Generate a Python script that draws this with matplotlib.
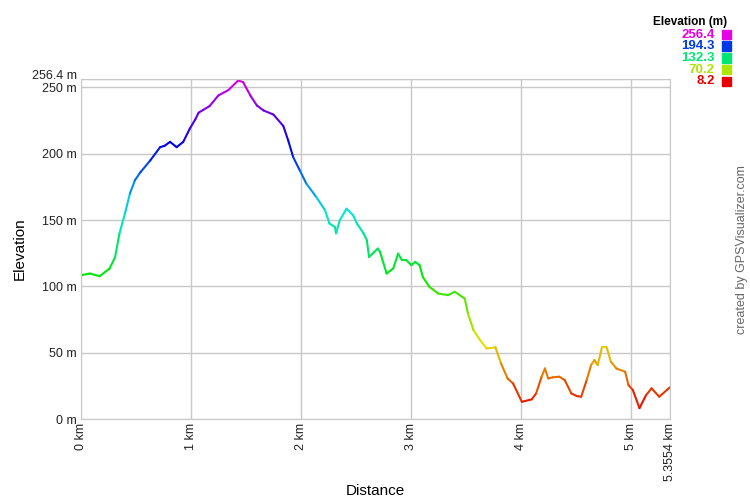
import numpy as np
import matplotlib
matplotlib.use("Agg")
import matplotlib.pyplot as plt
from matplotlib.collections import LineCollection
from matplotlib.colors import hsv_to_rgb

plt.rcParams['font.family'] = ['Liberation Sans', 'DejaVu Sans']

# Elevation profile (distance km, elevation m)
dist_km = [0.00, 0.08, 0.17, 0.26, 0.31, 0.35, 0.40, 0.445, 0.49, 0.54, 0.63, 0.72, 0.76, 0.81,
           0.87, 0.93, 0.99, 1.04, 1.07, 1.11, 1.17, 1.25, 1.34, 1.43, 1.475, 1.54, 1.60, 1.66,
           1.75, 1.84, 1.885, 1.93, 1.99, 2.05, 2.14, 2.22, 2.26, 2.31, 2.32, 2.355, 2.415,
           2.475, 2.51, 2.57, 2.60, 2.62, 2.70, 2.72, 2.78, 2.84, 2.885, 2.92, 2.96, 3.005,
           3.04, 3.08, 3.11, 3.17, 3.25, 3.34, 3.40, 3.49, 3.52, 3.57, 3.63, 3.69, 3.77, 3.82,
           3.88, 3.93, 4.01, 4.10, 4.14, 4.19, 4.22, 4.25, 4.29, 4.35, 4.40, 4.46, 4.51, 4.55,
           4.60, 4.64, 4.67, 4.70, 4.74, 4.78, 4.82, 4.87, 4.95, 4.98, 5.02, 5.08, 5.14, 5.19,
           5.26, 5.3554]
elev_m = [108.4, 109.7, 107.7, 113.5, 122.0, 140.0, 155.0, 170.0, 180.0, 186.0, 195.0, 205.0,
          206.0, 209.0, 205.0, 209.0, 219.0, 226.0, 231.0, 233.0, 236.0, 244.0, 248.0, 255.3,
          254.0, 244.0, 236.4, 232.7, 229.6, 221.0, 210.0, 197.5, 187.5, 177.5, 167.4, 157.4,
          147.4, 144.8, 140.0, 150.0, 158.6, 153.6, 147.4, 140.0, 134.8, 122.2, 128.5, 126.0,
          109.7, 113.5, 124.7, 119.7, 119.7, 116.0, 118.5, 116.0, 107.0, 99.6, 94.6, 93.4,
          95.9, 90.9, 79.5, 67.0, 59.5, 53.2, 54.0, 42.0, 30.6, 26.8, 13.0, 14.8, 19.3, 31.9,
          38.1, 30.6, 31.4, 31.9, 29.4, 19.3, 17.3, 16.8, 29.4, 40.7, 44.4, 40.7, 54.4, 54.4,
          43.2, 38.1, 35.6, 25.6, 21.8, 8.2, 18.0, 23.1, 16.8, 23.8]

legend_vals = [256.4, 194.3, 132.3, 70.2, 8.2]
y_ticks = [0, 50, 100, 150, 200, 250]
x_ticks = [0, 1, 2, 3, 4, 5]

e_min, e_max = 8.2, 256.4
total_km = 5.3554


def elev_color(e):
    # hue runs from red (low) to magenta (high)
    h = (e - e_min) / (e_max - e_min) * 300.0 / 360.0
    return hsv_to_rgb([h, 1.0, 0.9])


fig = plt.figure(figsize=(7.5, 5), dpi=100)
ax = fig.add_axes([0.108, 0.162, 0.785, 0.680])

x = np.array(dist_km)
y = np.array(elev_m)
pts = np.column_stack([x, y]).reshape(-1, 1, 2)
segs = np.concatenate([pts[:-1], pts[1:]], axis=1)
cols = [elev_color((a + b) / 2) for a, b in zip(y[:-1], y[1:])]
ax.add_collection(LineCollection(segs, colors=cols, linewidths=1.5, capstyle='round'))

ax.set_xlim(0, total_km)
ax.set_ylim(0, e_max)

grid_c = '#c8c8c8'
ax.set_yticks(y_ticks + [e_max])
ax.set_yticklabels(["%d m" % v for v in y_ticks] + ["256.4 m"])
ax.set_xticks(x_ticks + [total_km])
ax.set_xticklabels(["%d km" % v for v in x_ticks] + ["5.3554 km"], rotation=90)
ax.tick_params(length=0, labelsize=9, colors='#222222', pad=3)
# nudge the top label up a little so it clears "250 m"
ax.get_yticklabels()[-1].set_va('baseline')
ax.grid(True, color=grid_c, linewidth=1)
ax.set_axisbelow(True)
for s in ax.spines.values():
    s.set_color(grid_c)

ax.set_xlabel("Distance", fontsize=11)
ax.set_ylabel("Elevation", fontsize=11)
ax.xaxis.set_label_coords(0.5, -0.19)
ax.yaxis.set_label_coords(-0.092, 0.5)

# colour legend at the top right
fig.text(0.97, 0.957, "Elevation (m)", ha='right', va='center', fontsize=8.5, fontweight='bold')
for i, v in enumerate(legend_vals):
    yy = 0.931 - i * 0.0234
    fig.text(0.953, yy, "%.1f" % v, ha='right', va='center', fontsize=9.5,
             fontweight='bold', color=elev_color(v))
    fig.patches.append(plt.Rectangle((0.962, yy - 0.0095), 0.0133, 0.019, transform=fig.transFigure,
                                     color=elev_color(v), figure=fig))

fig.text(0.99, 0.5, "created by GPSVisualizer.com", rotation=90, ha='center', va='center',
         fontsize=9, color='#666666')

fig.savefig("out.png", dpi=100)
